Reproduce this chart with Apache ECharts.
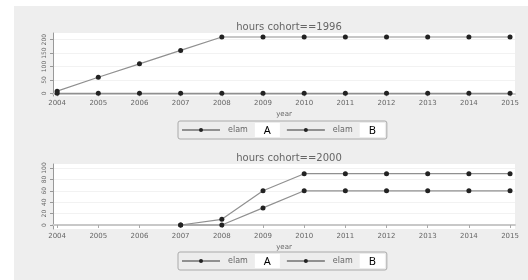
<!DOCTYPE html>
<html>
<head>
<meta charset="utf-8">
<script src="https://cdn.jsdelivr.net/npm/echarts@6/dist/echarts.min.js"></script>
<style>
  html, body { margin: 0; padding: 0; background: #fff; }
  #main { width: 528px; height: 280px; }
</style>
</head>
<body>
<div id="main"></div>
<script>
// data
var years = [2004, 2005, 2006, 2007, 2008, 2009, 2010, 2011, 2012, 2013, 2014, 2015];
var names = ['elam A', 'elam B'];

// panel 1: cohort 1996
var c1996A = [8, 60, 110, 160, 210, 210, 210, 210, 210, 210, 210, 210];
var c1996B = [0, 0, 0, 0, 0, 0, 0, 0, 0, 0, 0, 0];
var ticks1996 = [0, 50, 100, 150, 200];

// panel 2: cohort 2000
var c2000A = [null, null, null, 0, 0, 30, 60, 60, 60, 60, 60, 60];
var c2000B = [null, null, null, 0, 10, 60, 90, 90, 90, 90, 90, 90];
var ticks2000 = [0, 20, 40, 60, 80, 100];

var txt = '#666';
var myChart = echarts.init(document.getElementById('main'));

function pairs(vals) {
	return years.map(function(y, i){ return [y, vals[i]]; });
}

function xAxisFor(idx) {
	return {
		type: 'value', gridIndex: idx, min: 2003.9, max: 2015.12,
		name: 'year', nameLocation: 'middle', nameGap: 15,
		nameTextStyle: { color: txt, fontSize: 7, fontFamily: 'DejaVu Sans' },
		axisLine: { show: true, lineStyle: { color: '#c8c8c8', width: 2 } },
		axisTick: { show: true, length: 3, lineStyle: { color: '#aaa' }, customValues: years },
		axisLabel: {
			customValues: years, color: txt, fontSize: 7, margin: 4, fontFamily: 'DejaVu Sans',
			formatter: function(v){ return String(v); }
		},
		splitLine: { show: false }
	};
}

function yAxisFor(idx, min, max, ticks) {
	return {
		type: 'value', gridIndex: idx, min: min, max: max,
		axisLine: { show: true, lineStyle: { color: '#999' } },
		axisTick: { show: true, length: 3, lineStyle: { color: '#999' }, customValues: ticks },
		axisLabel: { customValues: ticks, color: txt, fontSize: 6, rotate: 90, margin: 6, fontFamily: 'DejaVu Sans' },
		splitLine: { show: true, lineStyle: { color: '#f2f2f2', width: 1 } }
	};
}

function lineSeries(name, idx, vals) {
	return {
		name: name, type: 'line', xAxisIndex: idx, yAxisIndex: idx,
		data: pairs(vals), connectNulls: false,
		symbol: 'circle', symbolSize: 5,
		itemStyle: { color: '#222' },
		lineStyle: { color: '#909090', width: 1.2 },
		emphasis: { disabled: true }
	};
}

function legendFor(top) {
	return {
		data: names, left: 178, top: top,
		itemWidth: 38, itemHeight: 5, itemGap: 6,
		padding: [2, 2, 2, 3],
		borderColor: '#aaa', borderWidth: 1, borderRadius: 2,
		backgroundColor: '#ededed',
		selectedMode: false,
		formatter: function(n) {
			var p = n.split(' ');
			return '{t|' + p[0] + '}{b|' + p[1] + '}';
		},
		textStyle: {
			rich: {
				t: { color: txt, fontSize: 8, padding: [0, 7, 0, 3], fontFamily: 'DejaVu Sans' },
				b: { color: '#000', fontSize: 11, backgroundColor: '#fff', padding: [2, 9, 1, 9], fontFamily: 'Noto Sans' }
			}
		}
	};
}

var option = {
	animation: false,
	backgroundColor: '#fff',
	graphic: [
		{ type: 'rect', z: -10, shape: { x: 14, y: 6, width: 514, height: 274 }, style: { fill: '#eeeeee' } }
	],
	title: [
		{ text: 'hours cohort==1996', left: 284, top: 17, textAlign: 'center',
		  textStyle: { color: txt, fontSize: 10, fontWeight: 'normal', fontFamily: 'DejaVu Sans' } },
		{ text: 'hours cohort==2000', left: 284, top: 148, textAlign: 'center',
		  textStyle: { color: txt, fontSize: 10, fontWeight: 'normal', fontFamily: 'DejaVu Sans' } }
	],
	grid: [
		{ left: 53, right: 13, top: 33, height: 63, show: true, backgroundColor: '#fff', borderWidth: 0 },
		{ left: 53, right: 13, top: 164, height: 65, show: true, backgroundColor: '#fff', borderWidth: 0 }
	],
	legend: [legendFor(121), legendFor(252)],
	xAxis: [xAxisFor(0), xAxisFor(1)],
	yAxis: [yAxisFor(0, -10, 225, ticks1996), yAxisFor(1, -7, 107, ticks2000)],
	series: [
		lineSeries(names[0], 0, c1996A),
		lineSeries(names[1], 0, c1996B),
		lineSeries(names[0], 1, c2000A),
		lineSeries(names[1], 1, c2000B)
	]
};
myChart.setOption(option);
</script>
</body>
</html>
